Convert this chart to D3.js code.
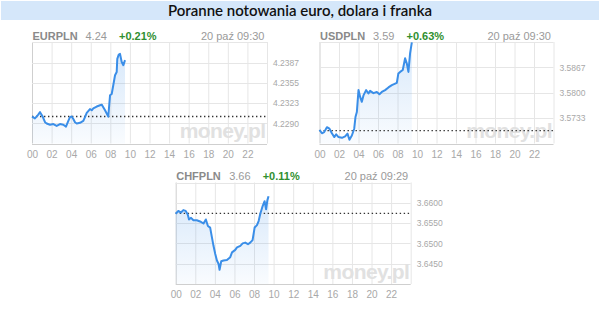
<!DOCTYPE html>
<html>
<head>
<meta charset="utf-8">
<script src="https://cdn.jsdelivr.net/npm/d3@7"></script>
<style>
    html, body { margin: 0; padding: 0; background: #fff; }
    svg { display: block; }
</style>
</head>
<body>
<svg id="chart" width="600" height="311"></svg>
<script>
// ── Poranne notowania: EURPLN / USDPLN / CHFPLN intraday ──────────────────────
(function () {
    'use strict';

    const W = 600, H = 311;
    const TITLE = 'Poranne notowania euro, dolara i franka';

    // headers of the three panels
    const pairs   = ['EURPLN', 'USDPLN', 'CHFPLN'];
    const prices  = ['4.24', '3.59', '3.66'];
    const changes = ['+0.21%', '+0.63%', '+0.11%'];
    const stamps  = ['20 paź 09:30', '20 paź 09:30', '20 paź 09:29'];
    const refRates = [4.2301, 3.5700, 3.6574];   // previous close (dotted line)

    // x axis: hours of the day
    const hourTicks = [0, 2, 4, 6, 8, 10, 12, 14, 16, 18, 20, 22];

    // y axis ticks per panel
    const eurTicks = [4.2290, 4.2323, 4.2355, 4.2387];
    const usdTicks = [3.5733, 3.5800, 3.5867];
    const chfTicks = [3.6450, 3.6500, 3.6550, 3.6600];

    // EURPLN
    const eurHours = [0.00, 0.30, 0.64, 0.82, 1.09, 1.33, 1.50, 1.84, 2.18, 2.52, 2.86, 3.20, 3.47,
        3.71, 3.88, 4.05, 4.22, 4.39, 4.57, 4.90, 5.24, 5.41, 5.59, 5.92, 6.10, 6.26, 6.61, 6.95,
        7.12, 7.28, 7.46, 7.79, 7.97, 8.14, 8.30, 8.48, 8.65, 8.71, 8.86, 8.99, 9.16, 9.33, 9.50];
    const eurRates = [4.2301, 4.2298, 4.2304, 4.2308, 4.2301, 4.2292, 4.2290, 4.2288, 4.2289, 4.2286,
        4.2289, 4.2288, 4.2285, 4.2294, 4.2300, 4.2301, 4.2297, 4.2292, 4.2290, 4.2291, 4.2294,
        4.2300, 4.2307, 4.2313, 4.2311, 4.2314, 4.2317, 4.2319, 4.2320, 4.2316, 4.2311, 4.2301,
        4.2335, 4.2337, 4.2351, 4.2367, 4.2372, 4.2393, 4.2400, 4.2401, 4.2388, 4.2383, 4.2391];

    // USDPLN
    const usdHours = [0.00, 0.25, 0.48, 0.76, 1.02, 1.27, 1.51, 1.71, 1.95, 2.30, 2.63, 2.87, 3.07,
        3.32, 3.56, 3.69, 3.83, 4.00, 4.17, 4.34, 4.51, 4.78, 5.02, 5.19, 5.53, 5.88, 6.15, 6.39,
        6.73, 7.07, 7.42, 7.76, 7.93, 8.09, 8.27, 8.54, 8.78, 8.96, 9.12, 9.29, 9.47];
    const usdRates = [3.5702, 3.5693, 3.5696, 3.5709, 3.5705, 3.5693, 3.5683, 3.5690, 3.5683, 3.5681,
        3.5685, 3.5692, 3.5676, 3.5687, 3.5705, 3.5736, 3.5749, 3.5807, 3.5789, 3.5776, 3.5793,
        3.5807, 3.5798, 3.5805, 3.5799, 3.5802, 3.5796, 3.5802, 3.5807, 3.5814, 3.5820, 3.5824,
        3.5826, 3.5851, 3.5855, 3.5860, 3.5891, 3.5877, 3.5855, 3.5904, 3.5933];

    // CHFPLN
    const chfHours = [0.00, 0.27, 0.54, 0.78, 1.02, 1.23, 1.36, 1.57, 1.81, 2.15, 2.49, 2.84, 3.08,
        3.29, 3.52, 3.70, 3.86, 4.04, 4.21, 4.37, 4.48, 4.65, 4.88, 5.23, 5.57, 5.75, 6.08, 6.26,
        6.60, 6.84, 7.10, 7.38, 7.61, 7.85, 8.06, 8.30, 8.47, 8.64, 8.88, 9.08, 9.23, 9.36, 9.48];
    const chfRates = [3.6573, 3.6580, 3.6576, 3.6582, 3.6580, 3.6571, 3.6559, 3.6563, 3.6557, 3.6557,
        3.6554, 3.6549, 3.6559, 3.6543, 3.6539, 3.6515, 3.6494, 3.6474, 3.6458, 3.6450, 3.6435,
        3.6456, 3.6458, 3.6459, 3.6466, 3.6478, 3.6484, 3.6490, 3.6494, 3.6500, 3.6502, 3.6498,
        3.6502, 3.6508, 3.6539, 3.6545, 3.6555, 3.6573, 3.6592, 3.6604, 3.6584, 3.6606, 3.6616];

    // panel boxes (plot area) and value domains
    const panels = [
        { x0: 32,    x1: 267,   y0: 42,    y1: 143.5, dom: [4.2258, 4.2420], ticks: eurTicks, hours: eurHours, rates: eurRates },
        { x0: 319.5, x1: 553.5, y0: 42,    y1: 143.5, dom: [3.5666, 3.5934], ticks: usdTicks, hours: usdHours, rates: usdRates },
        { x0: 175.7, x1: 410.7, y0: 182.5, y1: 284,   dom: [3.6400, 3.6650], ticks: chfTicks, hours: chfHours, rates: chfRates }
    ];

    const SANS = '"Liberation Sans", Arial, sans-serif';
    const svg = d3.select('#chart').attr('viewBox', `0 0 ${W} ${H}`);

    // gradient for the area under the line
    const grad = svg.append('defs').append('linearGradient')
        .attr('id', 'areaFill').attr('x1', 0).attr('y1', 0).attr('x2', 0).attr('y2', 1);
    grad.append('stop').attr('offset', '0%').attr('stop-color', '#3d8fe8').attr('stop-opacity', 0.2);
    grad.append('stop').attr('offset', '100%').attr('stop-color', '#3d8fe8').attr('stop-opacity', 0.03);

    // title band
    svg.append('rect').attr('x', 1).attr('y', 1).attr('width', W - 2).attr('height', 19)
        .attr('fill', '#d5e7fa');
    svg.append('text').attr('x', W / 2).attr('y', 15.5)
        .attr('text-anchor', 'middle')
        .style('font-family', 'Lato, sans-serif').style('font-size', '15px')
        .style('font-weight', 600).attr('fill', '#111')
        .text(TITLE);

    panels.forEach(function (p, i) {
        const g = svg.append('g');
        const x = d3.scaleLinear().domain([0, 24]).range([p.x0, p.x1]);
        const y = d3.scaleLinear().domain(p.dom).range([p.y1, p.y0]);

        // header
        const hy = p.y0 - 2.5;
        g.append('text').attr('x', p.x0 + 0.5).attr('y', hy)
            .style('font', `bold 11px ${SANS}`).attr('fill', '#8a8a8a').text(pairs[i]);
        g.append('text').attr('x', p.x0 + 53.5).attr('y', hy)
            .style('font', `11px ${SANS}`).attr('fill', '#9a9a9a').text(prices[i]);
        g.append('text').attr('x', p.x0 + 87).attr('y', hy)
            .style('font', `bold 11px ${SANS}`).attr('fill', '#2f8f2f').text(changes[i]);
        g.append('text').attr('x', p.x1 - 2.5).attr('y', hy).attr('text-anchor', 'end')
            .style('font', `11px ${SANS}`).attr('fill', '#9a9a9a').text(stamps[i]);

        // grid
        g.selectAll('line.vgrid')
            .data(hourTicks.concat([24]))
            .enter().append('line')
            .attr('x1', d => x(d) + 0.5).attr('x2', d => x(d) + 0.5)
            .attr('y1', p.y0).attr('y2', p.y1)
            .attr('stroke', d => (d === 0 ? '#cfcfcf' : '#e6e6e6')).attr('stroke-width', 1);
        g.selectAll('line.hgrid')
            .data(p.ticks.concat(p.dom))
            .enter().append('line')
            .attr('x1', p.x0).attr('x2', p.x1)
            .attr('y1', d => Math.round(y(d)) + 0.5).attr('y2', d => Math.round(y(d)) + 0.5)
            .attr('stroke', d => (d === p.dom[0] ? '#cfcfcf' : '#e6e6e6')).attr('stroke-width', 1);

        // watermark
        g.append('text').attr('x', p.x1 - 1.5).attr('y', p.y1 - 5.5)
            .attr('text-anchor', 'end')
            .style('font', `bold 21px ${SANS}`).style('letter-spacing', '-0.6px')
            .attr('fill', '#e1e1e1').text('money.pl');

        // x tick labels
        const xAxis = d3.axisBottom(x).tickValues(hourTicks)
            .tickFormat(d => d3.format('02d')(d)).tickSize(0).tickPadding(0);
        const ax = g.append('g').attr('transform', `translate(0,${p.y1 + 7})`).call(xAxis);
        ax.select('.domain').remove();
        ax.selectAll('text').style('font', `10px ${SANS}`).attr('fill', '#a8a8a8');

        // y tick labels on the right
        const yAxis = d3.axisRight(y).tickValues(p.ticks)
            .tickFormat(d3.format('.4f')).tickSize(0).tickPadding(6);
        const ay = g.append('g').attr('transform', `translate(${p.x1},0)`).call(yAxis);
        ay.select('.domain').remove();
        ay.selectAll('text').style('font', `8.5px ${SANS}`).attr('fill', '#a8a8a8');

        const pts = p.hours.map((h, k) => [h, p.rates[k]]);

        // area under line
        const area = d3.area().x(d => x(d[0])).y0(p.y1).y1(d => y(d[1]));
        g.append('path').datum(pts).attr('d', area)
            .attr('fill', 'url(#areaFill)');

        // previous close
        g.append('line')
            .attr('x1', p.x0).attr('x2', p.x1)
            .attr('y1', y(refRates[i])).attr('y2', y(refRates[i]))
            .attr('stroke', '#333').attr('stroke-width', 1.4)
            .attr('stroke-dasharray', '1.4 2.6');

        // rate line
        const line = d3.line().x(d => x(d[0])).y(d => y(d[1]));
        g.append('path').datum(pts).attr('d', line)
            .attr('fill', 'none').attr('stroke', '#3a8ee8')
            .attr('stroke-width', 2).attr('stroke-linejoin', 'round');
    });
})();
</script>
</body>
</html>
